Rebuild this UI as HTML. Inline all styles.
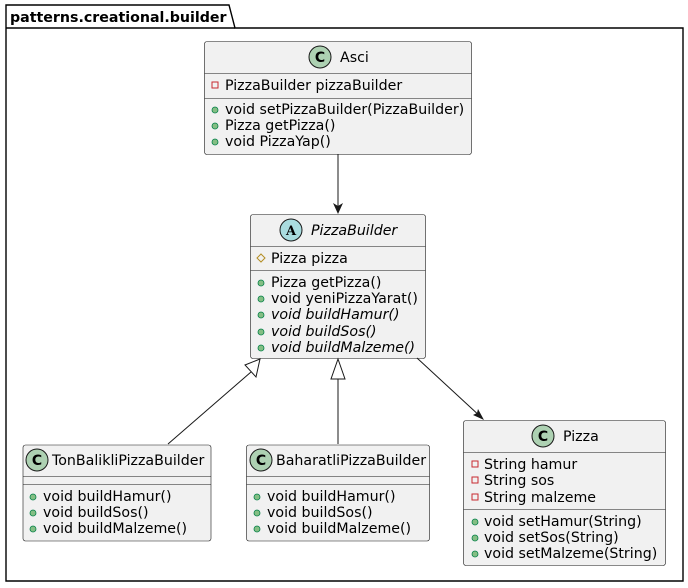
<!DOCTYPE html>
<html><head><meta charset="utf-8"><style>
body{margin:0;background:#fff}
svg{display:block}
text{font-family:"DejaVu Sans","Liberation Sans",sans-serif;font-size:14.2px;fill:#000}
.i{font-style:italic}
.box{fill:#f1f1f1;stroke:#181818;stroke-width:0.6}
.dv{stroke:#181818;stroke-width:0.6}
.pub{fill:#84be84;stroke:#038048;stroke-width:0.8}
</style></head><body>
<svg width="688" height="588" viewBox="0 0 688 588">
<!-- package -->
<path d="M6,28 L6,5 L229,5 L235,28 L683,28 L683,581 L6,581 Z" fill="none" stroke="#000" stroke-width="1.4"/>
<line x1="6" y1="28" x2="235" y2="28" stroke="#000" stroke-width="1.4"/>
<text x="10" y="22" style="font-weight:bold">patterns.creational.builder</text>

<!-- Asci -->
<rect class="box" x="204.5" y="41.5" width="267" height="113" rx="2.5"/>
<circle cx="320" cy="57" r="11" fill="#add1b2" stroke="#181818" stroke-width="1"/>
<text x="320" y="62" text-anchor="middle" style="font-weight:bold;font-size:14px">C</text>
<text x="340" y="62">Asci</text>
<line class="dv" x1="204.5" y1="73.5" x2="471.5" y2="73.5"/>
<rect x="212" y="82" width="6" height="6" fill="none" stroke="#c82930" stroke-width="1"/>
<text x="225" y="90">PizzaBuilder pizzaBuilder</text>
<line class="dv" x1="204.5" y1="98.5" x2="471.5" y2="98.5"/>
<circle class="pub" cx="215" cy="110" r="3"/><text x="225" y="114">void setPizzaBuilder(PizzaBuilder)</text>
<circle class="pub" cx="215" cy="126" r="3"/><text x="225" y="130">Pizza getPizza()</text>
<circle class="pub" cx="215" cy="142" r="3"/><text x="225" y="146">void PizzaYap()</text>

<!-- PizzaBuilder -->
<rect class="box" x="250.5" y="214.5" width="175" height="144" rx="2.5"/>
<circle cx="291" cy="230" r="11" fill="#a9dcdf" stroke="#181818" stroke-width="1"/>
<text x="291" y="235" text-anchor="middle" style="font-weight:bold;font-size:13px;font-family:'DejaVu Serif',serif">A</text>
<text x="311" y="235" class="i">PizzaBuilder</text>
<line class="dv" x1="250.5" y1="246.5" x2="425.5" y2="246.5"/>
<path d="M261,254 L265,258 L261,262 L257,258 Z" fill="none" stroke="#b38d22" stroke-width="1"/>
<text x="271" y="263">Pizza pizza</text>
<line class="dv" x1="250.5" y1="270.5" x2="425.5" y2="270.5"/>
<circle class="pub" cx="261" cy="283" r="3"/><text x="271" y="287">Pizza getPizza()</text>
<circle class="pub" cx="261" cy="299" r="3"/><text x="271" y="303">void yeniPizzaYarat()</text>
<circle class="pub" cx="261" cy="315" r="3"/><text x="271" y="319" class="i">void buildHamur()</text>
<circle class="pub" cx="261" cy="332" r="3"/><text x="271" y="336" class="i">void buildSos()</text>
<circle class="pub" cx="261" cy="348" r="3"/><text x="271" y="352" class="i">void buildMalzeme()</text>

<!-- TonBalikli -->
<rect class="box" x="23" y="445" width="188" height="96" rx="2.5"/>
<circle cx="37" cy="460" r="11" fill="#add1b2" stroke="#181818" stroke-width="1"/>
<text x="37" y="465" text-anchor="middle" style="font-weight:bold;font-size:14px">C</text>
<text x="52" y="465">TonBalikliPizzaBuilder</text>
<line class="dv" x1="23" y1="476.5" x2="211" y2="476.5"/>
<line class="dv" x1="23" y1="484.5" x2="211" y2="484.5"/>
<circle class="pub" cx="33" cy="497" r="3"/><text x="43" y="501">void buildHamur()</text>
<circle class="pub" cx="33" cy="513" r="3"/><text x="43" y="517">void buildSos()</text>
<circle class="pub" cx="33" cy="529" r="3"/><text x="43" y="533">void buildMalzeme()</text>

<!-- Baharatli -->
<rect class="box" x="246.5" y="445" width="183" height="96" rx="2.5"/>
<circle cx="261" cy="460" r="11" fill="#add1b2" stroke="#181818" stroke-width="1"/>
<text x="261" y="465" text-anchor="middle" style="font-weight:bold;font-size:14px">C</text>
<text x="276" y="465">BaharatliPizzaBuilder</text>
<line class="dv" x1="246.5" y1="476.5" x2="429.5" y2="476.5"/>
<line class="dv" x1="246.5" y1="484.5" x2="429.5" y2="484.5"/>
<circle class="pub" cx="257" cy="497" r="3"/><text x="267" y="501">void buildHamur()</text>
<circle class="pub" cx="257" cy="513" r="3"/><text x="267" y="517">void buildSos()</text>
<circle class="pub" cx="257" cy="529" r="3"/><text x="267" y="533">void buildMalzeme()</text>

<!-- Pizza -->
<rect class="box" x="463.5" y="420.5" width="202" height="145" rx="2.5"/>
<circle cx="543" cy="436" r="11" fill="#add1b2" stroke="#181818" stroke-width="1"/>
<text x="543" y="441" text-anchor="middle" style="font-weight:bold;font-size:14px">C</text>
<text x="563" y="441">Pizza</text>
<line class="dv" x1="463.5" y1="452.5" x2="665.5" y2="452.5"/>
<rect x="472" y="461" width="6" height="6" fill="none" stroke="#c82930" stroke-width="1"/><text x="484" y="469">String hamur</text>
<rect x="472" y="477" width="6" height="6" fill="none" stroke="#c82930" stroke-width="1"/><text x="484" y="485">String sos</text>
<rect x="472" y="494" width="6" height="6" fill="none" stroke="#c82930" stroke-width="1"/><text x="484" y="502">String malzeme</text>
<line class="dv" x1="463.5" y1="509.5" x2="665.5" y2="509.5"/>
<circle class="pub" cx="475" cy="522" r="3"/><text x="484" y="526">void setHamur(String)</text>
<circle class="pub" cx="475" cy="538" r="3"/><text x="484" y="542">void setSos(String)</text>
<circle class="pub" cx="475" cy="554" r="3"/><text x="484" y="558">void setMalzeme(String)</text>

<!-- connectors -->
<g stroke="#181818" stroke-width="1" fill="none">
<line x1="338" y1="154" x2="338" y2="212"/>
<line x1="168" y1="444" x2="251" y2="372"/>
<line x1="338" y1="444" x2="338" y2="379"/>
<line x1="417" y1="358" x2="482" y2="418"/>
</g>
<path d="M338,214 L333,203 L338,206 L343,203 Z" fill="#181818"/>
<path d="M260,359 L256,377 L245,365 Z" fill="#fff" stroke="#181818" stroke-width="1"/>
<path d="M338,359 L345,379 L331,379 Z" fill="#fff" stroke="#181818" stroke-width="1"/>
<path d="M484,420 L473,415 L477,413 L478,409 Z" fill="#181818"/>
</svg>
</body></html>
